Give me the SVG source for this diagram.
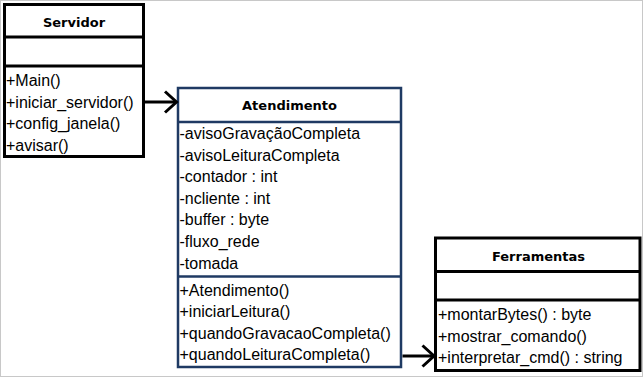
<svg xmlns="http://www.w3.org/2000/svg" width="644" height="378" viewBox="0 0 644 378">
  <style>
    .box { fill: #ffffff; stroke: #000000; stroke-width: 3; }
    .box-navy { fill: #ffffff; stroke: #1f3a63; stroke-width: 2.5; }
    .div { stroke: #000000; stroke-width: 3; }
    .div-navy { stroke: #1f3a63; stroke-width: 2.5; }
    .title { font-family: "DejaVu Sans", "Liberation Sans", sans-serif; font-weight: bold; font-size: 13px; fill: #000000; text-anchor: middle; }
    .member { font-family: "Liberation Sans", Arial, sans-serif; font-size: 16px; fill: #000000; }
    .conn { fill: none; stroke: #000000; stroke-width: 3; }
  </style>

  <!-- outer frame -->
  <rect x="0.5" y="0.5" width="642" height="376" fill="#ffffff" stroke="#c8c8c8" stroke-width="1"/>

  <!-- class: Servidor -->
  <g id="servidor">
    <rect class="box" x="4.5" y="4.5" width="139" height="152"/>
    <line class="div" x1="4.5" y1="37" x2="143.5" y2="37"/>
    <line class="div" x1="4.5" y1="66" x2="143.5" y2="66"/>
    <text class="title" x="74" y="27">Servidor</text>
    <text class="member" x="6" y="86">+Main()</text>
    <text class="member" x="6" y="107.5">+iniciar_servidor()</text>
    <text class="member" x="6" y="129">+config_janela()</text>
    <text class="member" x="6" y="150.5">+avisar()</text>
  </g>

  <!-- class: Atendimento -->
  <g id="atendimento">
    <rect class="box-navy" x="178" y="88" width="223" height="279"/>
    <line class="div-navy" x1="178" y1="122" x2="401" y2="122"/>
    <line class="div-navy" x1="178" y1="276.5" x2="401" y2="276.5"/>
    <text class="title" x="289.5" y="109.5">Atendimento</text>
    <text class="member" x="179.5" y="139">-avisoGravaçãoCompleta</text>
    <text class="member" x="179.5" y="160.6">-avisoLeituraCompleta</text>
    <text class="member" x="179.5" y="182.2">-contador : int</text>
    <text class="member" x="179.5" y="203.8">-ncliente : int</text>
    <text class="member" x="179.5" y="225.4">-buffer : byte</text>
    <text class="member" x="179.5" y="247">-fluxo_rede</text>
    <text class="member" x="179.5" y="268.6">-tomada</text>
    <text class="member" x="179.5" y="295.5">+Atendimento()</text>
    <text class="member" x="179.5" y="317">+iniciarLeitura()</text>
    <text class="member" x="179.5" y="338.6">+quandoGravacaoCompleta()</text>
    <text class="member" x="179.5" y="360.2">+quandoLeituraCompleta()</text>
  </g>

  <!-- class: Ferramentas -->
  <g id="ferramentas">
    <rect class="box" x="435.5" y="238" width="204.5" height="132.5"/>
    <line class="div" x1="435.5" y1="271.5" x2="640" y2="271.5"/>
    <line class="div" x1="435.5" y1="300" x2="640" y2="300"/>
    <text class="title" x="538.5" y="261">Ferramentas</text>
    <text class="member" x="438" y="320">+montarBytes() : byte</text>
    <text class="member" x="438" y="341.5">+mostrar_comando()</text>
    <text class="member" x="438" y="363">+interpretar_cmd() : string</text>
  </g>

  <!-- associations -->
  <g id="connectors">
    <line class="conn" x1="145" y1="102" x2="176" y2="102"/>
    <polyline class="conn" points="165,91.5 176.5,102 165,112.5"/>
    <line class="conn" x1="402.5" y1="356" x2="433.5" y2="356"/>
    <polyline class="conn" points="422.5,345.5 434,356 422.5,366.5"/>
  </g>
</svg>
